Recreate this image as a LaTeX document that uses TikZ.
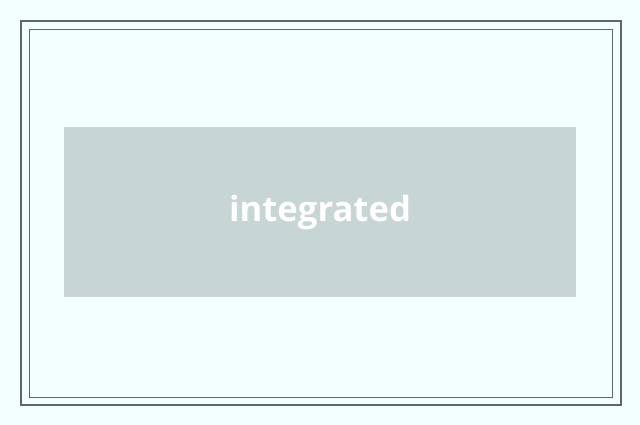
\documentclass[tikz,border=0pt]{standalone}
\usepackage{fontspec}
\setsansfont{Open Sans}
\definecolor{bgcyan}{HTML}{F3FFFF}
\definecolor{framegray}{HTML}{5A6868}
\definecolor{boxgray}{HTML}{C8D5D5}
\tikzset{
  frameline/.style={draw=framegray, line width=1.2pt},
  innerline/.style={draw=framegray, line width=0.6pt},
  labelbox/.style={fill=boxgray, minimum width=384pt, minimum height=127.5pt,
    font=\sffamily\bfseries\fontsize{26}{30}\selectfont, text=white}
}
\begin{document}
\begin{tikzpicture}[x=0.75pt, y=-0.75pt]
    \fill[bgcyan] (0,0) rectangle (640,425);
    \useasboundingbox (0,0) rectangle (640,425);
    \draw[frameline] (21,21) rectangle (621,405);
    \draw[innerline] (29,29) rectangle (612,397);
    \node[labelbox] (main) at (320,212) {integrated};
  \end{tikzpicture}
\end{document}
